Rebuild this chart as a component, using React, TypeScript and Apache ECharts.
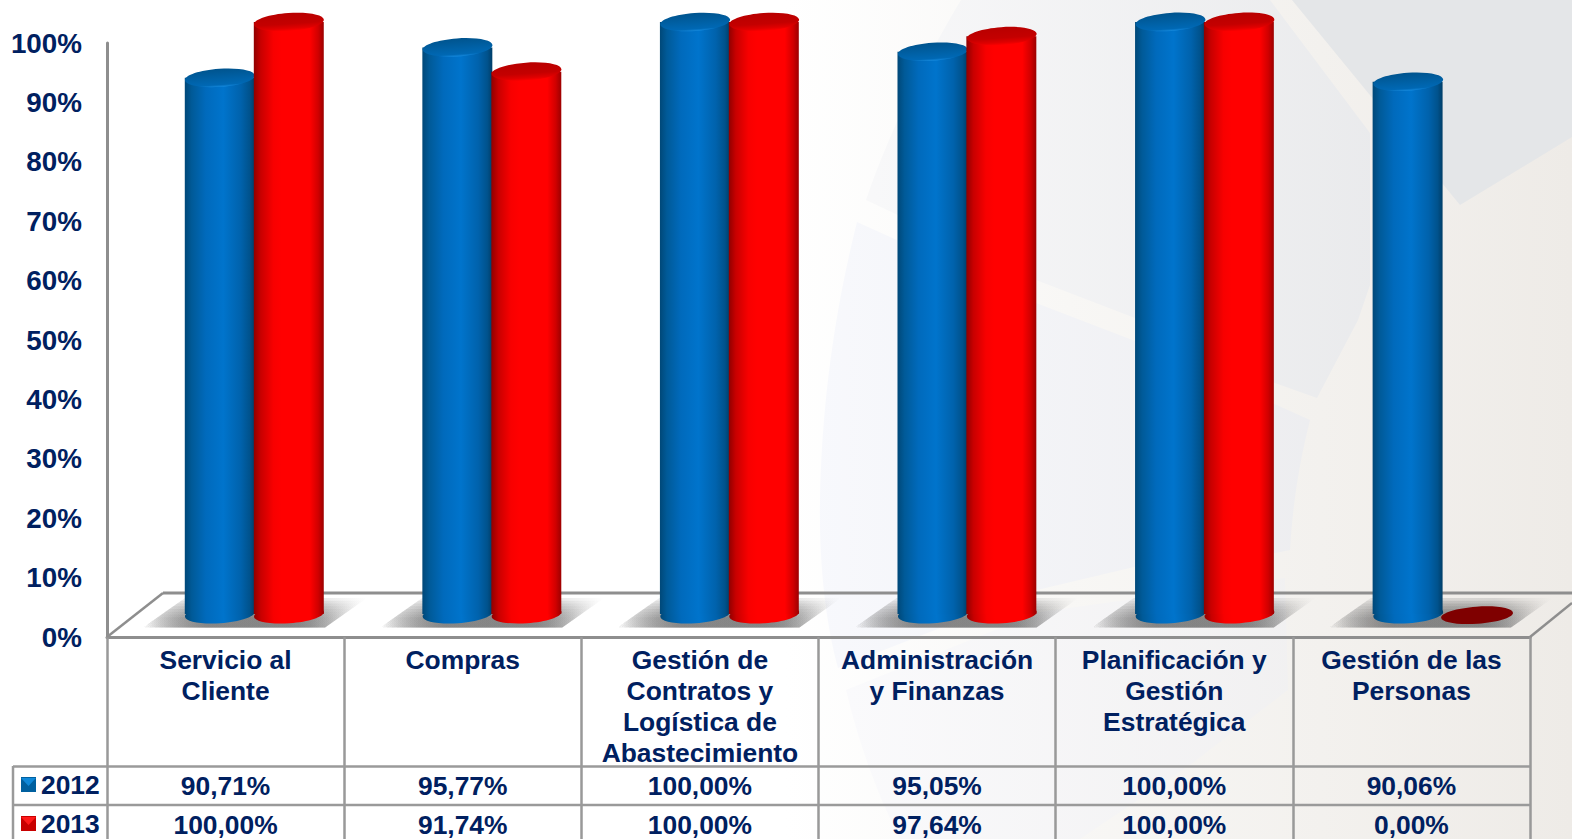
import React, { useEffect, useRef } from "react";
import * as echarts from "echarts";

const categories = [
  "Servicio al\nCliente",
  "Compras",
  "Gestión de\nContratos y\nLogística de\nAbastecimiento",
  "Administración\ny Finanzas",
  "Planificación y\nGestión\nEstratégica",
  "Gestión de las\nPersonas",
];
const values2012 = [90.71, 95.77, 100, 95.05, 100, 90.06];
const values2013 = [100, 91.74, 100, 97.64, 100, 0];
const seriesNames = ["2012", "2013"];
const yMin = 0;
const yMax = 100;
const yStep = 10;

const NAVY = "#002060";
const GREY = "#8e8e8e";
const FONT = '"Liberation Sans", Arial, sans-serif';
const LG = echarts.graphic.LinearGradient;

const percent = (v: number) => v.toFixed(2).replace(".", ",") + "%";

const bgShapes: Record<string, string> = {
  bgTop: "M1292 0 L1572 0 L1572 137 L1460 205 Z",
  bgMid: "M961 0 C925 60 890 130 866 200 L1036 280 L1135 318 L1275 383 L1317 398 L1358 320 L1370 285 L1370 133 L1270 0 Z",
  bgLow: "M857 222 C835 310 822 400 820 500 C819 560 825 620 838 668 L1037 590 L1134 567 L1275 553 L1290 550 C1293 500 1300 460 1310 420 L1135 341 L1036 303 Z",
  bgBot: "M846 690 L1040 612 L1285 578 L1288 690 L1190 765 L1080 839 L900 839 C875 790 858 740 846 690 Z",
};
Object.keys(bgShapes).forEach((k) => {
  echarts.graphic.registerShape(k, echarts.graphic.extendPath(bgShapes[k], {}));
});

const panelFill = (c0: string, c1: string) =>
  new LG(800, 0, 1500, 0, [{ offset: 0, color: c0 }, { offset: 1, color: c1 }], true);

const blueBody = [
  [0, "#004878"], [0.1, "#005a98"], [0.3, "#006abc"], [0.55, "#0074cc"], [0.8, "#0062ac"], [0.93, "#00528c"], [1, "#003e68"],
];
const redBody = [
  [0, "#900000"], [0.1, "#c80000"], [0.28, "#f80000"], [0.4, "#ff0000"], [0.8, "#ff0000"], [0.92, "#d00000"], [1, "#9c0000"],
];
const blueCap = [[0, "#00548e"], [0.6, "#0062a8"], [0.88, "#0068b4"], [1, "#1488dc"]];
const redCap = [[0, "#b80000"], [0.6, "#c40000"], [0.85, "#e00000"], [1, "#ff0000"]];
const stops = (a: any[]) => a.map(([offset, color]) => ({ offset, color }));

const makeRender = (body: any[], cap: any[], dx: number, drift: number, isFirst: boolean) => (_: any, api: any) => {
  const i = api.value(0);
  const v = api.value(1);
  const [cx0, y0] = api.coord([i, 0]);
  const yv = api.coord([i, v])[1];
  const band = api.size([1, 0])[0];
  const w = band * 0.295;
  const cx = cx0 + band * dx + drift * i;
  const rx = w / 2;
  const ry = 9;
  const tilt = 0.07;
  const base = y0 - 23;
  const top = y0 - 14 - (y0 - yv) * 1.0118;
  const children: any[] = [];
  if (isFirst) {
    const fade = new LG(0, 0, 1, 0, [
      { offset: 0, color: "rgba(110,110,110,0)" },
      { offset: 0.3, color: "rgba(110,110,110,0.2)" },
      { offset: 0.74, color: "rgba(110,110,110,0.2)" },
      { offset: 1, color: "rgba(110,110,110,0)" },
    ]);
    const l = cx0 - 82.5;
    const yB = y0 - 9.5;
    const yT = y0 - 39;
    const layers = 8;
    for (let k = 0; k < layers; k++) {
      const t = k / layers;
      const yy = yT + (yB - yT) * t * 0.75;
      const off = 42 * (1 - t * 0.75);
      children.push({
        type: "polygon",
        shape: { points: [[l, yB], [l + off, yy], [l + off + 182, yy], [l + 182, yB]] },
        style: { fill: fade },
      });
    }
  }
  if (v === 0) {
    children.push({
      type: "ellipse",
      shape: { cx, cy: y0 - 22, rx: rx + 1, ry: 8.5 },
      rotation: tilt,
      originX: cx,
      originY: y0 - 22,
      style: { fill: "#7f0000" },
    });
    return { type: "group", children };
  }
  const grad = new LG(0, 0, 1, 0, stops(body));
  children.push({
    type: "ellipse",
    shape: { cx, cy: base, rx, ry },
    rotation: tilt,
    originX: cx,
    originY: base,
    style: { fill: grad },
  });
  children.push({
    type: "rect",
    shape: { x: cx - rx, y: top, width: w, height: base - top },
    style: { fill: grad },
  });
  children.push({
    type: "ellipse",
    shape: { cx, cy: top, rx, ry },
    rotation: tilt,
    originX: cx,
    originY: top,
    style: { fill: new LG(0, 0, 0, 1, stops(cap)) },
  });
  return { type: "group", children };
};

const App = () => {
  const ref = useRef<HTMLDivElement>(null);
  useEffect(() => {
    document.body.style.margin = "0";
    document.body.style.overflow = "hidden";
    const chart = echarts.init(ref.current!, undefined, { renderer: "svg" });
    const labelBase = { color: NAVY, fontFamily: FONT, fontWeight: "bold" as const, fontSize: 26.4 };
    const valueAxis = (data: string[], offset: number) => ({
      type: "category" as const,
      gridIndex: 0,
      position: "bottom" as const,
      offset,
      data,
      axisLine: { show: false },
      axisTick: { show: false },
      axisLabel: { ...labelBase, interval: 0, margin: 0, lineHeight: 30 },
    });
    const line = (x1: number, y1: number, x2: number, y2: number, width = 2.5, stroke = GREY) => ({
      type: "line",
      z: 1,
      shape: { x1, y1, x2, y2 },
      style: { stroke, lineWidth: width },
    });
    chart.setOption({
      animation: false,
      backgroundColor: new LG(0, 0, 1, 0, [
        { offset: 0, color: "#ffffff" },
        { offset: 0.5, color: "#ffffff" },
        { offset: 0.68, color: "#f8f7f5" },
        { offset: 1, color: "#eeebe7" },
      ]),
      grid: { left: 107, right: 42, top: 43, bottom: 202, containLabel: false, outerBoundsMode: "none" },
      legend: {
        left: 21,
        top: 771,
        height: 68,
        orient: "vertical",
        align: "left",
        padding: 0,
        itemWidth: 15,
        itemHeight: 15,
        itemGap: 12,
        selectedMode: false,
        textStyle: { ...labelBase, lineHeight: 27, padding: [0, 0, 0, 0] },
        data: [
          { name: seriesNames[0], icon: "rect", itemStyle: { color: "#00609f" } },
          { name: seriesNames[1], icon: "rect", itemStyle: { color: "#c80000" } },
        ],
      },
      xAxis: [
        {
          type: "category",
          gridIndex: 0,
          data: categories,
          axisLine: { show: true, lineStyle: { color: GREY, width: 3 } },
          axisTick: { show: true, length: 202, lineStyle: { color: "#999999", width: 2.5 } },
          axisLabel: { ...labelBase, interval: 0, margin: 7, lineHeight: 31, align: "center" },
        },
        valueAxis(values2012.map(percent), 134),
        valueAxis(values2013.map(percent), 173),
      ],
      yAxis: {
        type: "value",
        min: yMin,
        max: yMax,
        interval: yStep,
        splitLine: { show: false },
        axisLine: { show: true, lineStyle: { color: GREY, width: 3 } },
        axisTick: { show: false },
        axisLabel: {
          formatter: "{value}%",
          margin: 25,
          color: NAVY,
          fontFamily: FONT,
          fontWeight: "bold",
          fontSize: 27.8,
        },
      },
      series: [
        {
          name: seriesNames[0],
          type: "custom",
          z: 3,
          xAxisIndex: 0,
          itemStyle: { color: "#00609f" },
          encode: { x: 0, y: 1 },
          data: values2012.map((v, i) => [i, v]),
          renderItem: makeRender(blueBody, blueCap, -0.0245, 0.4, true),
        },
        {
          name: seriesNames[1],
          type: "custom",
          z: 4,
          xAxisIndex: 0,
          itemStyle: { color: "#c80000" },
          encode: { x: 0, y: 1 },
          data: values2013.map((v, i) => [i, v]),
          renderItem: makeRender(redBody, redCap, 0.2665, 0.35, false),
        },
      ],
      graphic: [
        { type: "bgTop", x: 0, y: 0, z: -5, silent: true, style: { fill: "#e4e6e8" } },
        { type: "bgMid", x: 0, y: 0, z: -5, silent: true, style: { fill: panelFill("#fafafb", "#e6e7e9") } },
        { type: "bgLow", x: 0, y: 0, z: -5, silent: true, style: { fill: panelFill("#f8f9fd", "#e9e9eb") } },
        { type: "bgBot", x: 0, y: 0, z: -5, silent: true, style: { fill: panelFill("#fbfbfd", "#edecec") } },
        line(107, 637, 163, 593),
        line(163, 593, 1572, 593, 3),
        line(1530, 637, 1572, 603),
        line(13, 766.5, 1530, 766.5, 2.5, "#9a9a9a"),
        line(13, 805, 1530, 805, 2.5, "#9a9a9a"),
        line(13, 766, 13, 839, 2.5, "#9a9a9a"),
        { type: "polygon", z: 100, shape: { points: [[21, 778], [36, 778], [28.5, 786]] }, style: { fill: "#0f88d8" } },
        { type: "polygon", z: 100, shape: { points: [[21, 817], [36, 817], [28.5, 825]] }, style: { fill: "#ff1a1a" } },
      ],
    });
    return () => chart.dispose();
  }, []);
  return <div ref={ref} style={{ width: 1572, height: 839 }} />;
};

export default App;
